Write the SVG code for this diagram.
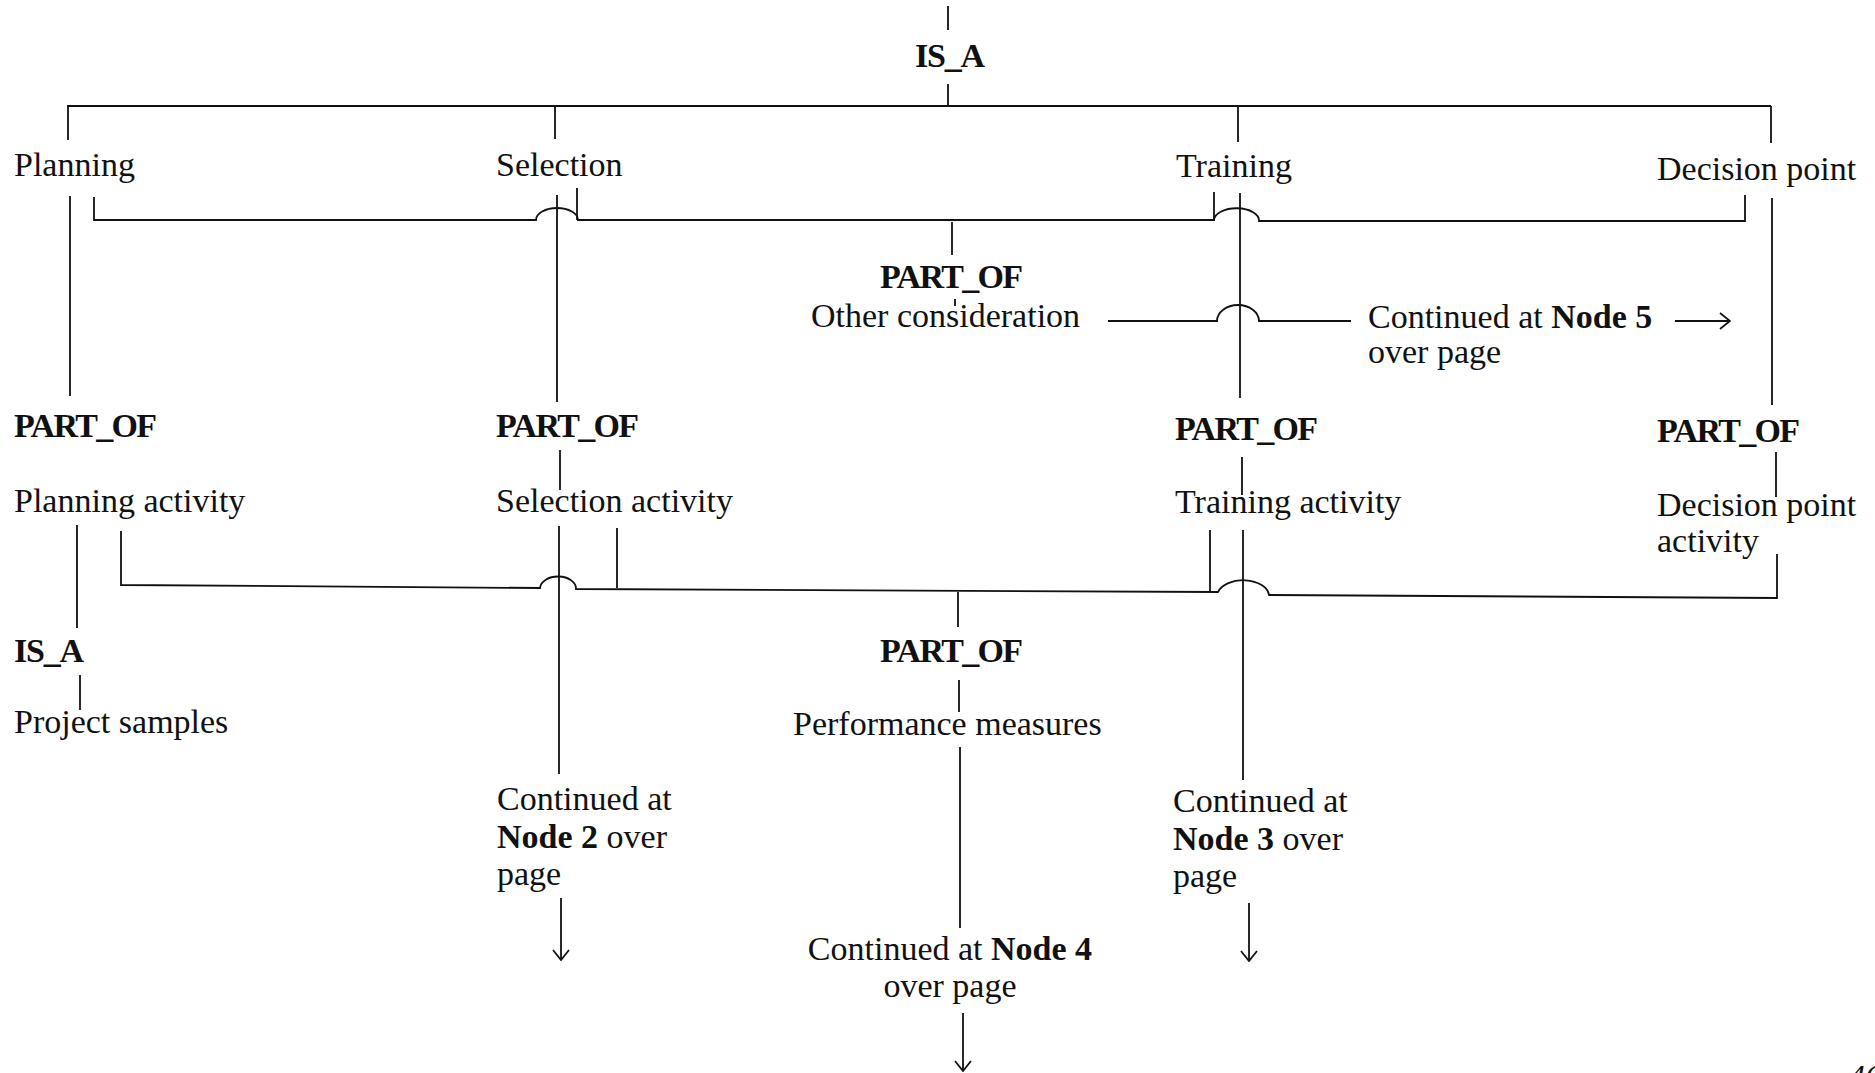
<svg xmlns="http://www.w3.org/2000/svg" width="1875" height="1073" viewBox="0 0 1875 1073">
<style>
text{font-family:"Liberation Serif","Times New Roman",serif;font-size:34px;fill:#111}
.b{font-weight:bold}
.c path{fill:none;stroke:#111;stroke-width:1.8}
</style>
<defs>
<marker id="ah" viewBox="0 0 12 18" markerWidth="12" markerHeight="18" refX="11" refY="9" orient="auto" markerUnits="userSpaceOnUse">
<path d="M1,1 L11,9 L1,17" fill="none" stroke="#111" stroke-width="1.8"/>
</marker>
</defs>
<rect width="1875" height="1073" fill="#fff"/>
<g class="c" id="connectors">
<path d="M948,6 V30 M948,84 V105"/>
<path d="M67,106 H1771"/>
<path d="M68,106 V140 M555,106 V139 M1238,106 V142 M1771,106 V143"/>
<path d="M70,196 V396 M557,195 V402 M1240,193 V398 M1772,198 V405"/>
<path d="M94,197 V220 H536 A21 12 0 0 1 578,220 H1214 A22 12 0 0 1 1259,221 H1745 V195"/>
<path d="M577,188 V220 M1214,192 V221"/>
<path d="M952,222 V255 M955,299 V306"/>
<path d="M1108,321 H1217 A21 16 0 0 1 1259,321 H1351"/>
<path d="M1675,321 H1730" marker-end="url(#ah)"/>
<path d="M560,450 V490 M1242,457 V495 M1776,452 V497"/>
<path d="M121,531 V585 L540,588 A18 12 0 0 1 576,589 L1218,592 A26 16 0 0 1 1269,595 L1777,598 V554"/>
<path d="M617,528 V588 M1210,530 V592"/>
<path d="M77,525 V628 M80,675 V710"/>
<path d="M958,592 V627 M959,680 V712 M960,747 V928"/>
<path d="M559,526 V774 M1243,530 V780"/>
<path d="M561,898 V960" marker-end="url(#ah)"/>
<path d="M1249,903 V961" marker-end="url(#ah)"/>
<path d="M963,1013 V1071" marker-end="url(#ah)"/>
</g>
<g id="isa-top"><text class="b" x="915" y="67" textLength="70" lengthAdjust="spacing">IS_A</text></g>
<g id="planning"><text x="14" y="176">Planning</text></g>
<g id="selection"><text x="496" y="176">Selection</text></g>
<g id="training"><text x="1176" y="177">Training</text></g>
<g id="decision-point"><text x="1657" y="180">Decision point</text></g>
<g id="partof-other"><text class="b" x="880" y="288" textLength="143" lengthAdjust="spacing">PART_OF</text></g>
<g id="other-consideration"><text x="811" y="327">Other consideration</text></g>
<g id="node5"><text x="1368" y="328">Continued at <tspan class="b">Node 5</tspan></text><text x="1368" y="363">over page</text></g>
<g id="partof-planning"><text class="b" x="14" y="437" textLength="143" lengthAdjust="spacing">PART_OF</text></g>
<g id="partof-selection"><text class="b" x="496" y="437" textLength="143" lengthAdjust="spacing">PART_OF</text></g>
<g id="partof-training"><text class="b" x="1175" y="440" textLength="143" lengthAdjust="spacing">PART_OF</text></g>
<g id="partof-decision"><text class="b" x="1657" y="442" textLength="143" lengthAdjust="spacing">PART_OF</text></g>
<g id="planning-activity"><text x="14" y="512">Planning activity</text></g>
<g id="selection-activity"><text x="496" y="512">Selection activity</text></g>
<g id="training-activity"><text x="1175" y="513">Training activity</text></g>
<g id="decision-activity"><text x="1657" y="516">Decision point</text><text x="1657" y="552">activity</text></g>
<g id="isa-planning"><text class="b" x="14" y="662" textLength="70" lengthAdjust="spacing">IS_A</text></g>
<g id="project-samples"><text x="14" y="733">Project samples</text></g>
<g id="partof-performance"><text class="b" x="880" y="662" textLength="143" lengthAdjust="spacing">PART_OF</text></g>
<g id="performance-measures"><text x="793" y="735">Performance measures</text></g>
<g id="node2"><text x="497" y="810">Continued at</text><text x="497" y="848"><tspan class="b">Node 2</tspan> over</text><text x="497" y="885">page</text></g>
<g id="node3"><text x="1173" y="812">Continued at</text><text x="1173" y="850"><tspan class="b">Node 3</tspan> over</text><text x="1173" y="887">page</text></g>
<g id="node4"><text x="950" y="960" text-anchor="middle">Continued at <tspan class="b">Node 4</tspan></text><text x="950" y="997" text-anchor="middle">over page</text></g>
<g id="page-number"><text x="1848" y="1088" font-style="italic">46</text></g>
</svg>
